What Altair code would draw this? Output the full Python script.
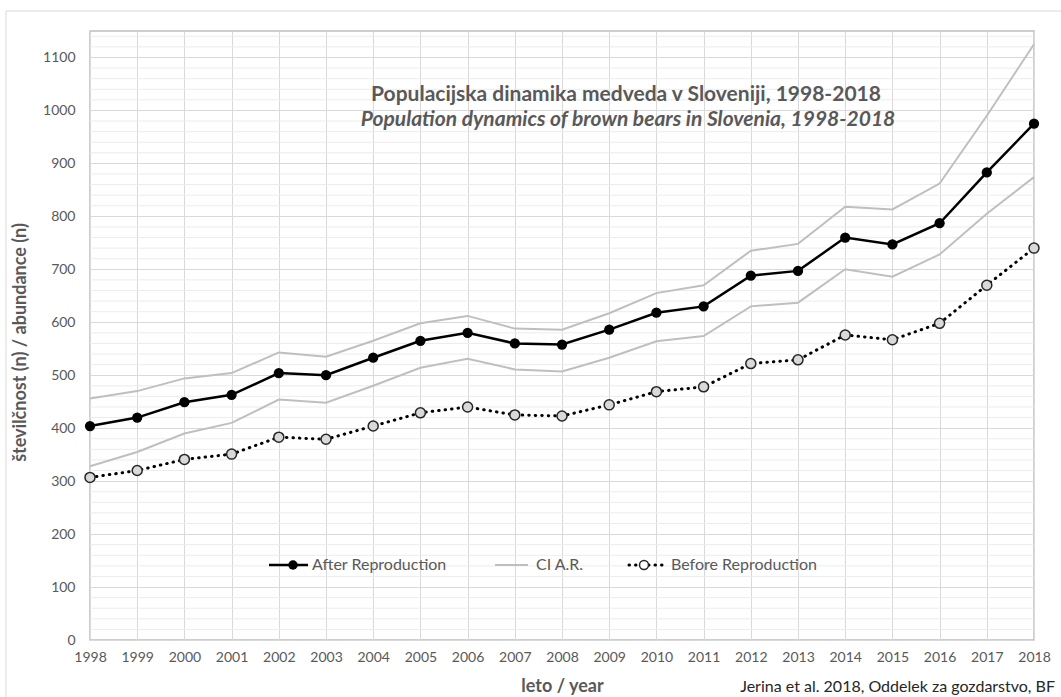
import altair as alt
import pandas as pd

years = list(range(1998, 2019))
after_repro = [404, 420, 449, 463, 504, 500, 533, 565, 580, 560, 558, 586, 618, 630, 688, 697, 760, 747, 787, 883, 975]
ci_upper = [456, 470, 494, 504, 543, 535, 565, 598, 612, 588, 586, 617, 655, 670, 735, 748, 818, 813, 862, 990, 1125]
ci_lower = [328, 355, 390, 410, 454, 448, 480, 514, 531, 511, 507, 533, 564, 574, 630, 637, 700, 686, 728, 805, 874]
before_repro = [307, 320, 341, 351, 383, 379, 404, 429, 440, 425, 423, 444, 469, 478, 522, 529, 576, 567, 598, 670, 740]
y_ticks = list(range(0, 1101, 100))
minor_ticks = [v for v in range(20, 1160, 20) if v % 100 != 0]

title_lines = ["Populacijska dinamika medveda v Sloveniji, 1998-2018",
               "Population dynamics of brown bears in Slovenia, 1998-2018"]
legend_labels = ["After Reproduction", "CI A.R.", "Before Reproduction"]
credit = "Jerina et al. 2018, Oddelek za gozdarstvo, BF"

FONT = "Lato"
GRAY_TXT = "#595959"

df = pd.DataFrame({"year": years, "after": after_repro, "up": ci_upper,
                   "lo": ci_lower, "before": before_repro})
minor_df = pd.DataFrame({"v": minor_ticks})
one = pd.DataFrame({"t": [0]})

W, H = 944, 609
xs = alt.Scale(domain=[1998, 2018], nice=False, zero=False)
ys = alt.Scale(domain=[0, 1150], nice=False)

xenc = alt.X("year:Q", scale=xs, axis=alt.Axis(values=years, format="d", title="leto / year",
             titleX=472, titleY=46, titleBaseline="middle", titleFontWeight="bold",
             labelPadding=10, ticks=False, domain=False,
             gridColor="#d9d9d9", labelFlush=False))

base = alt.Chart(df)

minor = alt.Chart(minor_df).mark_rule(color="#ececec", strokeWidth=1).encode(
    y=alt.Y("v:Q", scale=ys, axis=alt.Axis(values=y_ticks, format="d",
            title="številčnost (n) / abundance (n)",
            titleX=-70, titleY=311, titleAngle=-90, titleAlign="center", titleBaseline="middle",
            titleFontWeight="bold", labelPadding=15, ticks=False, domain=False,
            gridColor="#d9d9d9"))
)

ci_up = base.mark_line(color="#bfbfbf", strokeWidth=2).encode(x=xenc, y=alt.Y("up:Q", scale=ys))
ci_lo = base.mark_line(color="#bfbfbf", strokeWidth=2).encode(x=xenc, y=alt.Y("lo:Q", scale=ys))

before_line = base.mark_line(color="black", strokeWidth=3, strokeDash=[0.5, 6], strokeCap="round").encode(
    x=xenc, y=alt.Y("before:Q", scale=ys))
before_pts = base.mark_point(filled=True, fill="#d9d9d9", stroke="#262626", strokeWidth=1.5,
                             size=100, opacity=1).encode(x=xenc, y=alt.Y("before:Q", scale=ys))

after_line = base.mark_line(color="black", strokeWidth=2.5).encode(x=xenc, y=alt.Y("after:Q", scale=ys))
after_pts = base.mark_point(filled=True, color="black", size=105, opacity=1).encode(
    x=xenc, y=alt.Y("after:Q", scale=ys))

t1 = alt.Chart(pd.DataFrame({"t": [title_lines[0]]})).mark_text(
    font=FONT, fontSize=21, fontWeight="bold", color=GRAY_TXT, align="center", baseline="middle"
).encode(text="t:N", x=alt.value(536), y=alt.value(64))
t2 = alt.Chart(pd.DataFrame({"t": [title_lines[1]]})).mark_text(
    font=FONT, fontSize=21, fontWeight="bold", fontStyle="italic", color=GRAY_TXT,
    align="center", baseline="middle"
).encode(text="t:N", x=alt.value(538), y=alt.value(89))

LY = 534
leg_after_line = alt.Chart(one).mark_rule(color="black", strokeWidth=2.5).encode(
    x=alt.value(179), x2=alt.value(218), y=alt.value(LY))
leg_after_pt = alt.Chart(one).mark_point(filled=True, color="black", size=90, opacity=1).encode(
    x=alt.value(203), y=alt.value(LY))
leg_ci_line = alt.Chart(one).mark_rule(color="#bfbfbf", strokeWidth=2).encode(
    x=alt.value(405), x2=alt.value(438), y=alt.value(LY))
leg_bef_line = alt.Chart(one).mark_rule(color="black", strokeWidth=3, strokeDash=[0.5, 6],
                                        strokeCap="round").encode(
    x=alt.value(539), x2=alt.value(572), y=alt.value(LY))
leg_bef_pt = alt.Chart(one).mark_point(filled=True, fill="#ffffff", stroke="#262626", strokeWidth=1.5,
                                       size=80, opacity=1).encode(x=alt.value(554), y=alt.value(LY))
leg_text = alt.Chart(pd.DataFrame({"t": legend_labels, "px": [222, 446, 581]})).mark_text(
    font=FONT, fontSize=16, color=GRAY_TXT, align="left", baseline="middle"
).encode(text="t:N", x=alt.X("px:Q", scale=None), y=alt.value(LY))

credit_t = alt.Chart(pd.DataFrame({"t": [credit]})).mark_text(
    font=FONT, fontSize=16, color="#262626", align="right", baseline="middle"
).encode(text="t:N", x=alt.value(965), y=alt.value(656))

border_top = alt.Chart(one).mark_rule(color="#d9d9d9", strokeWidth=1).encode(
    x=alt.value(-84), x2=alt.value(975), y=alt.value(-20))
border_left = alt.Chart(one).mark_rule(color="#d9d9d9", strokeWidth=1).encode(
    x=alt.value(-84), y=alt.value(-20), y2=alt.value(680))

chart = alt.layer(
    minor, ci_up, ci_lo, before_line, before_pts, after_line, after_pts,
    t1, t2, leg_after_line, leg_after_pt, leg_ci_line, leg_bef_line, leg_bef_pt, leg_text,
    credit_t, border_top, border_left
).properties(
    width=W, height=H,
    autosize=alt.AutoSizeParams(type="none"),
    padding={"left": 90, "top": 31, "right": 27, "bottom": 57},
    background="white"
).configure_view(
    stroke="#bfbfbf", strokeWidth=1.5
).configure_axis(
    labelFont=FONT, titleFont=FONT, labelFontSize=14, labelColor=GRAY_TXT, titleColor=GRAY_TXT,
    titleFontSize=18, grid=True
)

chart.save("out.html", embed_options={"renderer": "svg", "actions": False})
